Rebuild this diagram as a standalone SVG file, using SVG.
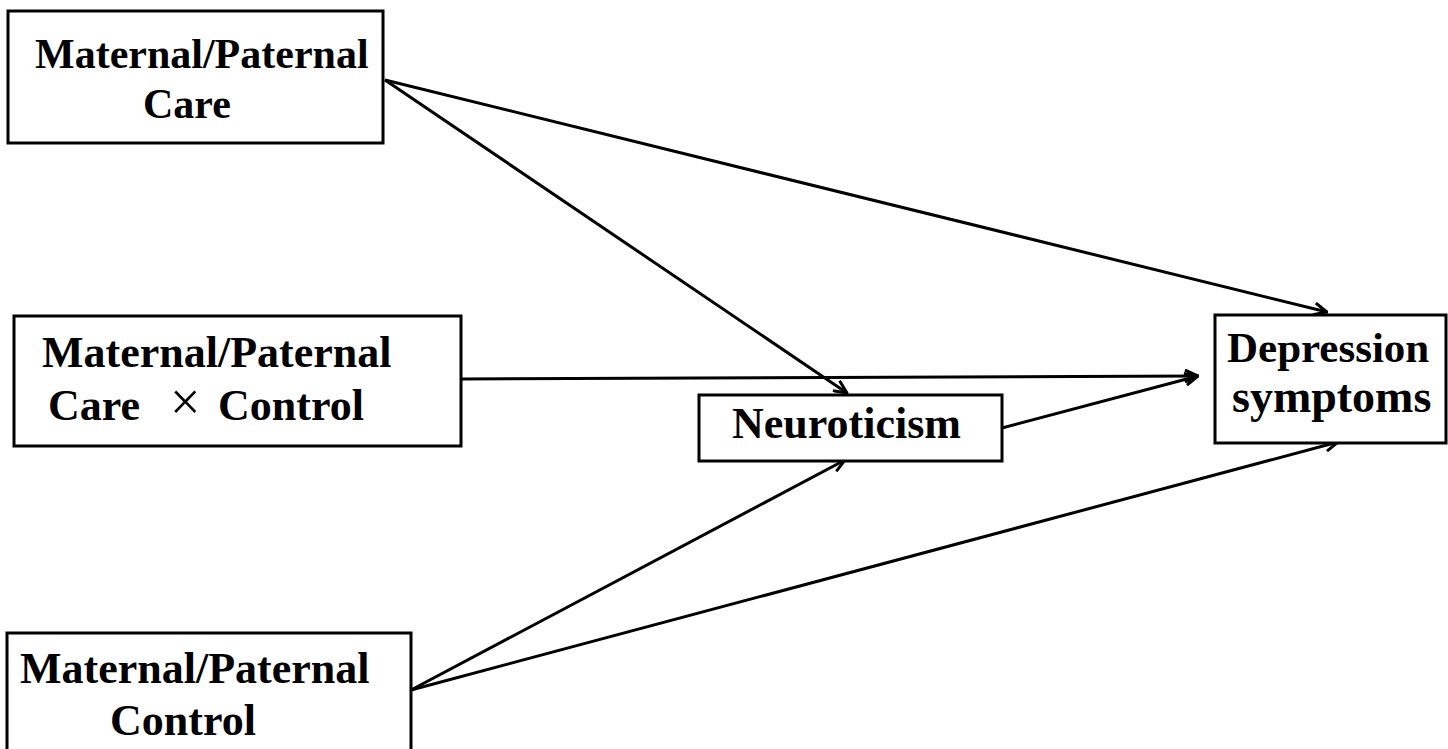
<svg xmlns="http://www.w3.org/2000/svg" width="1448" height="749" viewBox="0 0 1448 749">
<style>
.box{fill:#fff;stroke:#000;stroke-width:3}
.t{font-family:"Liberation Serif","Times New Roman",serif;font-weight:bold;fill:#000}
.c{stroke:#000;stroke-width:3;fill:none;marker-end:url(#ah)}
</style>
<defs>
<marker id="ah" viewBox="0 0 16 14" refX="15" refY="7" markerWidth="16" markerHeight="14" markerUnits="userSpaceOnUse" orient="auto">
<path d="M2,1 L15,7 L2,13" fill="none" stroke="#000" stroke-width="3"/>
</marker>
</defs>
<rect width="1448" height="749" fill="#fff"/>
<g id="connectors">
<line class="c" x1="385" y1="80" x2="1327" y2="312"/>
<line class="c" x1="385" y1="80" x2="847" y2="393"/>
<line class="c" x1="461" y1="379" x2="1198" y2="376"/>
<line class="c" x1="1002" y1="428" x2="1198" y2="376"/>
<line class="c" x1="411" y1="690" x2="845" y2="460"/>
<line class="c" x1="411" y1="690" x2="1338" y2="442"/>
</g>
<g id="care">
<rect class="box" x="8" y="11" width="375" height="132"/>
<text class="t" x="35" y="68" font-size="42">Maternal/Paternal</text>
<text class="t" x="143" y="118" font-size="42">Care</text>
</g>
<g id="interaction">
<rect class="box" x="14" y="316" width="447" height="130"/>
<text class="t" x="42" y="367" font-size="44">Maternal/Paternal</text>
<text class="t" y="420" font-size="44"><tspan x="48">Care</tspan><tspan x="170" font-weight="normal" font-size="54">×</tspan><tspan x="218">Control</tspan></text>
</g>
<g id="control">
<rect class="box" x="7" y="633" width="404" height="130"/>
<text class="t" x="20" y="683" font-size="44">Maternal/Paternal</text>
<text class="t" x="110" y="735" font-size="44">Control</text>
</g>
<g id="neuroticism">
<rect class="box" x="699" y="395" width="303" height="66"/>
<text class="t" x="732" y="438" font-size="44">Neuroticism</text>
</g>
<g id="depression">
<rect class="box" x="1215" y="315" width="231" height="128"/>
<text class="t" x="1227" y="362" font-size="43">Depression</text>
<text class="t" x="1232" y="412" font-size="46">symptoms</text>
</g>
</svg>
